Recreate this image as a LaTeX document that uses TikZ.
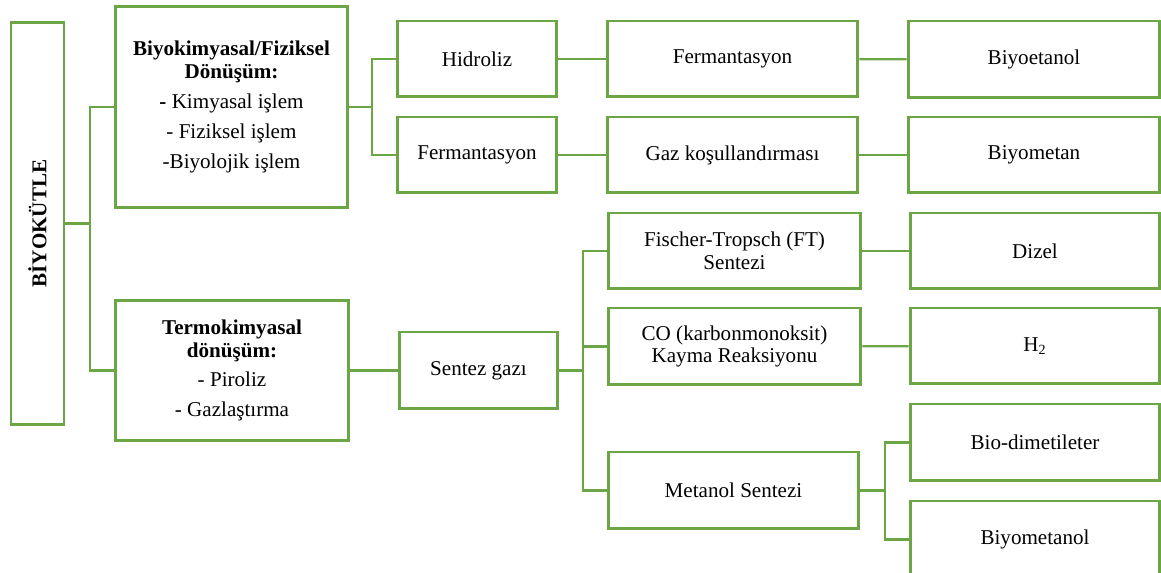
\documentclass[tikz,border=0pt]{standalone}
\usepackage{fontspec}
\setmainfont{Liberation Serif}
\usepackage{graphicx}
\usepackage{tikz}
\usetikzlibrary{positioning, calc}
\definecolor{yesil}{RGB}{108,166,68}
\tikzset{
  box/.style ={rectangle, draw=yesil, line width=1.7pt, fill=white,
               align=center, inner sep=2pt,
               font=\fontsize{12}{13}\selectfont},
  link/.style={draw=yesil, line width=1.2pt}
}

\begin{document}
\begin{tikzpicture}[x=0.02cm, y=-0.02cm]
    \useasboundingbox (0,0) rectangle (1161,573);
    \node[box, minimum width=1.06cm, minimum height=8.06cm] (bio) at (37.5,223.5) {\rotatebox{90}{\textbf{BİYOKÜTLE}}};
    \node[box, minimum width=4.66cm, minimum height=4.04cm] (bk) at (231.5,107)
      {\textbf{Biyokimyasal/Fiziksel}\\\textbf{Dönüşüm:}\\[4pt]\textbf{-} Kimyasal işlem\\[4pt]- Fiziksel işlem\\[4pt]-Biyolojik işlem};
    \node[box, minimum width=4.68cm, minimum height=2.82cm] (tk) at (232,370.5)
      {\textbf{Termokimyasal}\\\textbf{dönüşüm:}\\[4pt]- Piroliz\\[4pt]- Gazlaştırma};
    \node[box, minimum width=3.2cm, minimum height=1.52cm] (hid) at (477,59) {Hidroliz};
    \node[box, minimum width=3.2cm, minimum height=1.52cm] (fer1) at (477,155) {Fermantasyon};
    \node[box, minimum width=5.02cm, minimum height=1.52cm] (fer2) at (732.5,59) {Fermantasyon};
    \node[box, minimum width=5.02cm, minimum height=1.52cm] (gaz) at (732.5,155) {Gaz koşullandırması};
    \node[box, minimum width=5.04cm, minimum height=1.54cm] (etan) at (1034,59.5) {Biyoetanol};
    \node[box, minimum width=5.04cm, minimum height=1.52cm] (metan) at (1034,155) {Biyometan};
    \node[box, minimum width=3.18cm, minimum height=1.54cm] (sgaz) at (478.5,370.5) {Sentez gazı};
    \node[box, minimum width=5.06cm, minimum height=1.52cm] (ft) at (734.5,251) {Fischer-Tropsch (FT)\\Sentezi};
    \node[box, minimum width=5.06cm, minimum height=1.54cm] (co) at (734.5,346.5) {CO (karbonmonoksit)\\Kayma Reaksiyonu};
    \node[box, minimum width=5.02cm, minimum height=1.54cm] (mets) at (733.5,490.5) {Metanol Sentezi};
    \node[box, minimum width=5.0cm, minimum height=1.52cm] (dizel) at (1035,251) {Dizel};
    \node[box, minimum width=5.0cm, minimum height=1.52cm] (h2) at (1035,346) {H\textsubscript{2}};
    \node[box, minimum width=5.0cm, minimum height=1.54cm] (dme) at (1035,442.5) {Bio-dimetileter};
    \node[box, minimum width=5.0cm, minimum height=1.54cm] (bmet) at (1035,539.5) {Biyometanol};
    \coordinate (j0) at (90,223.5);
    \coordinate (j1) at (372,107);
    \coordinate (j2) at (583,370.5);
    \coordinate (j3) at (885,490.5);
    \draw[link] (bio.east) -- (j0);
    \draw[link] (bk.west) -| (j0) |- (tk.west);
    \draw[link] (bk.east) -- (j1);
    \draw[link] (hid.west) -| (j1) |- (fer1.west);
    \draw[link] (hid) -- (fer2);
    \draw[link] (fer1) -- (gaz);
    \draw[link] (fer2) -- (etan);
    \draw[link] (gaz) -- (metan);
    \draw[link] (tk.east) -- (sgaz.west);
    \draw[link] (sgaz.east) -- (j2);
    \draw[link] (ft.west) -| (j2) |- (mets.west);
    \draw[link] (co.west) -- (co.west -| j2);
    \draw[link] (ft) -- (dizel);
    \draw[link] (co) -- (h2);
    \draw[link] (mets.east) -- (j3);
    \draw[link] (dme.west) -| (j3) |- (bmet.west);
  \end{tikzpicture}
\end{document}
